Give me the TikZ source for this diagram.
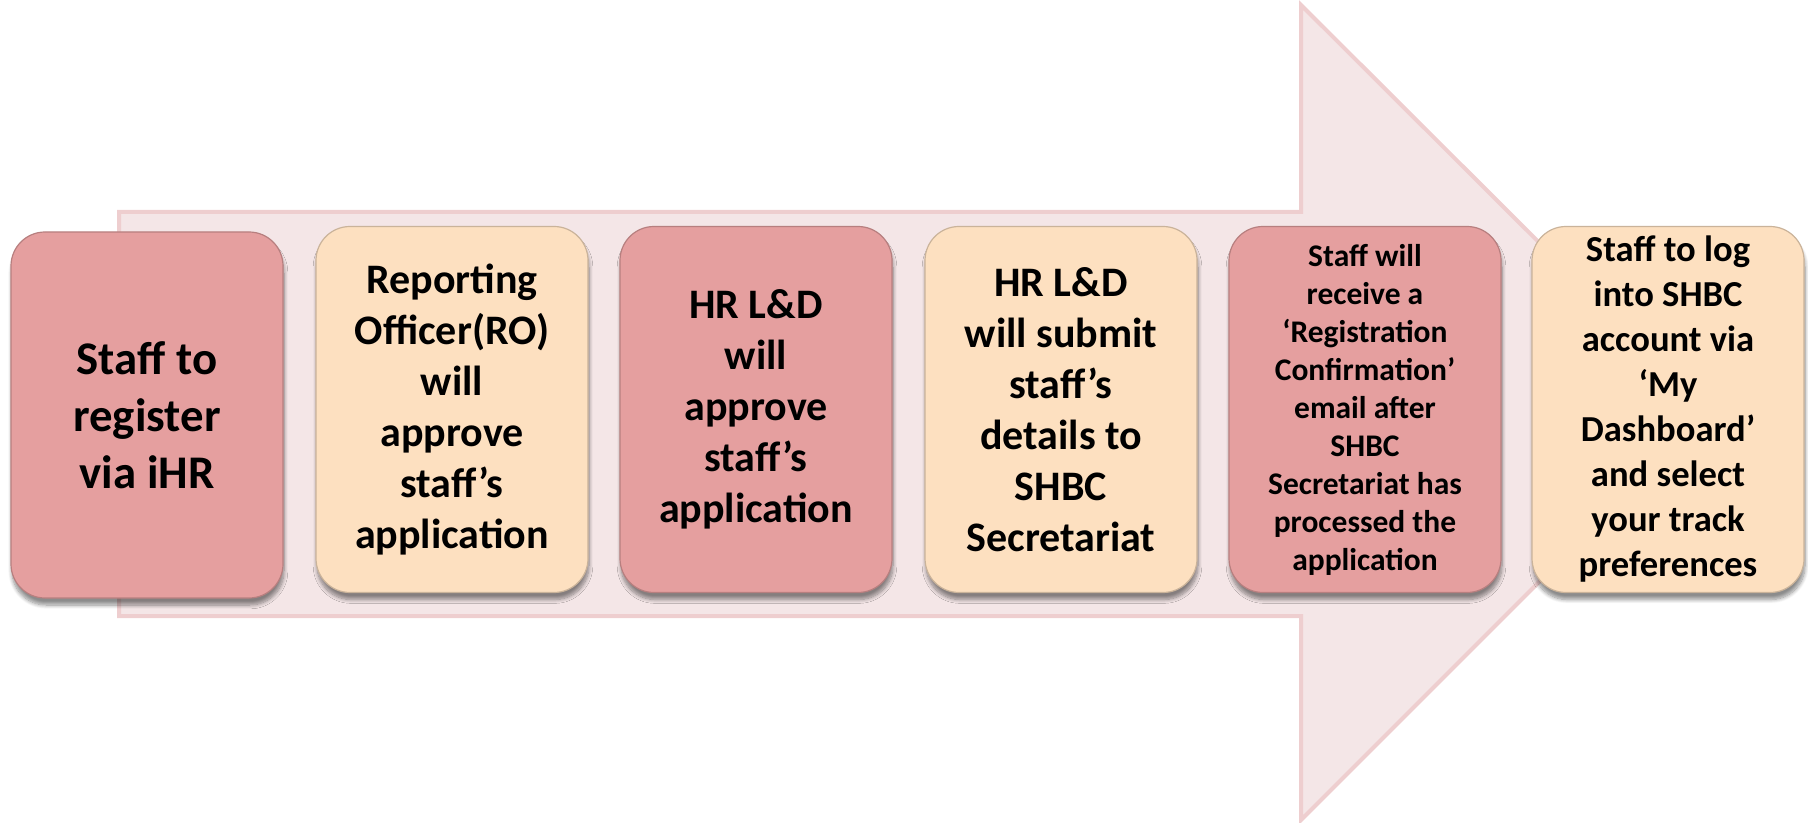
\documentclass[tikz,border=0pt]{standalone}
\usepackage{fontspec}
\setmainfont{Carlito}
\usetikzlibrary{shadows.blur}
\definecolor{arrowfill}{RGB}{244,230,231}
\definecolor{arrowline}{RGB}{238,206,207}
\definecolor{rosebox}{RGB}{229,159,159}
\definecolor{peachbox}{RGB}{253,224,192}
\tikzset{
  stepbox/.style={rounded corners=17pt, minimum width=136pt, minimum height=183pt,
    inner sep=0pt, align=center, font=\bfseries,
    blur shadow={shadow xshift=0.5pt, shadow yshift=-3.5pt, shadow blur steps=8, shadow opacity=45},
    draw=#1!80!black, line width=0.6pt, fill=#1},
  stepbox/.default=rosebox,
  bigtext/.style={font=\fontsize{23.4pt}{28.5pt}\selectfont\bfseries},
  midtext/.style={font=\fontsize{21pt}{25.5pt}\selectfont\bfseries},
  smalltext/.style={font=\fontsize{15.75pt}{19pt}\selectfont\bfseries},
  tailtext/.style={font=\fontsize{18.3pt}{22.5pt}\selectfont\bfseries}
}
\begin{document}
\begin{tikzpicture}[x=0.5pt,y=-0.5pt]
\useasboundingbox (0,0) rectangle (1808,823);
% big arrow behind the steps
\path[draw=arrowline,fill=arrowfill,line width=2pt,line join=miter]
 (119,212) -- (1301,212) -- (1301,5) -- (1709,412)
 -- (1301,820) -- (1301,616) -- (119,616) -- cycle ;
% the six steps
\node[stepbox=rosebox,bigtext] (register) at (147,415)
 {Staff to\\register\\via iHR};
\node[stepbox=peachbox,midtext] (roapprove) at (452,409.5)
 {Reporting\\Officer(RO)\\will\\approve\\staff’s\\application};
\node[stepbox=rosebox,midtext] (hrapprove) at (756,409.5)
 {HR L\&D\\will\\approve\\staff’s\\application};
\node[stepbox=peachbox,midtext] (hrsubmit) at (1061,409.5)
 {HR L\&D\\will submit\\staff’s\\details to\\SHBC\\Secretariat};
\node[stepbox=rosebox,smalltext] (confirm) at (1365,409.5)
 {Staff will\\receive a\\‘Registration\\Confirmation’\\email after\\SHBC\\Secretariat has\\processed the\\application};
\node[stepbox=peachbox,tailtext] (login) at (1668,409.5)
 {Staff to log\\into SHBC\\account via\\‘My\\Dashboard’\\and select\\your track\\preferences};
\end{tikzpicture}
\end{document}
